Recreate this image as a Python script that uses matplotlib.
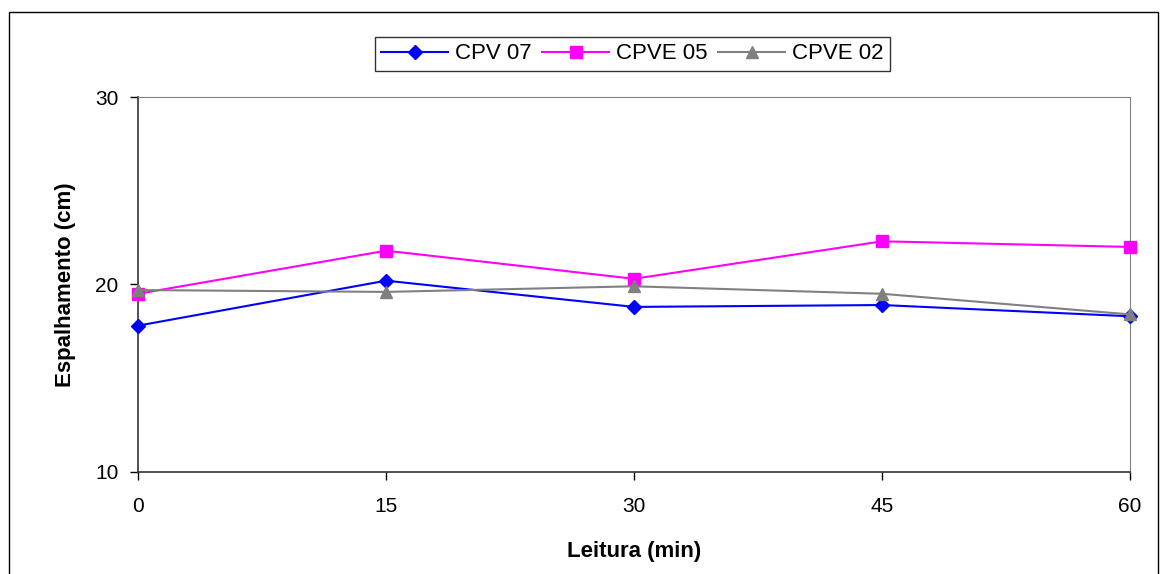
import matplotlib
matplotlib.use('Agg')
import matplotlib.pyplot as plt
from matplotlib.patches import Rectangle

plt.rcParams['font.family'] = ['Liberation Sans', 'DejaVu Sans']

# Dados
leitura = [0, 15, 30, 45, 60]
cpv07 = [17.8, 20.2, 18.8, 18.9, 18.3]
cpve05 = [19.5, 21.8, 20.3, 22.3, 22.0]
cpve02 = [19.7, 19.6, 19.9, 19.5, 18.4]

fig = plt.figure(figsize=(11.62, 5.74), dpi=100)
ax = fig.add_axes([0.1188, 0.178, 0.9725 - 0.1188, 0.831 - 0.178])

ax.plot(leitura, cpv07, color='#0000ff', marker='D', markersize=7.5, linewidth=1.5, label='CPV 07', clip_on=False, zorder=3)
ax.plot(leitura, cpve05, color='#ff00ff', marker='s', markersize=8.5, linewidth=1.5, label='CPVE 05', clip_on=False, zorder=3)
ax.plot(leitura, cpve02, color='#808080', marker='^', markersize=8.5, linewidth=1.5, label='CPVE 02', clip_on=False, zorder=3)

ax.set_xlim(0, 60)
ax.set_ylim(10, 30)
ax.set_xticks(leitura)
ax.set_yticks([10, 20, 30])
ax.tick_params(axis='both', labelsize=15, direction='out', length=6, width=1)
ax.tick_params(axis='x', pad=12)
ax.tick_params(axis='y', pad=8)

for s in ['top', 'right']:
    ax.spines[s].set_color('#808080')
for s in ['left', 'bottom']:
    ax.spines[s].set_color('#333333')
    ax.spines[s].set_linewidth(1.2)

ax.set_xlabel('Leitura (min)', fontsize=16, fontweight='bold', labelpad=18)
ax.set_ylabel('Espalhamento (cm)', fontsize=16, fontweight='bold', labelpad=14)

leg = fig.legend(loc='center', bbox_to_anchor=(0.544, 0.906), ncol=3, fontsize=16,
                 frameon=True, fancybox=False, edgecolor='black', handlelength=3.0,
                 columnspacing=0.5, handletextpad=0.3, borderpad=0.3)
leg.get_frame().set_linewidth(1.0)

# moldura externa
fig.patches.append(Rectangle((0.0077, -0.05), 0.9885, 0.979 + 0.05, transform=fig.transFigure,
                             fill=False, edgecolor='black', linewidth=1.0))

fig.savefig('out.png', dpi=100)
